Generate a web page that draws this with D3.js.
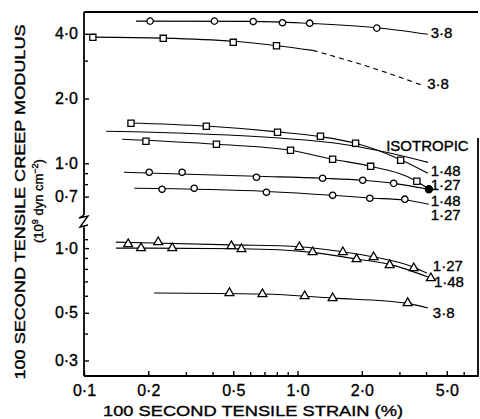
<!DOCTYPE html>
<html>
<head>
<meta charset="utf-8">
<script src="https://cdn.jsdelivr.net/npm/d3@7"></script>
<style>
  body { margin: 0; background: #fff; }
  svg { display: block; font-family: "Liberation Sans", Arial, sans-serif; }
  svg text { stroke: #000; stroke-width: 0.35px; fill: #000; }
</style>
</head>
<body>
<div id="chart"></div>
<script>
// strain (%) and modulus (10^9 dyn cm^-2)
const xMajorTicks = [0.1, 0.2, 0.5, 1, 2, 5];
const xMinorTicks = [0.3, 0.4, 0.6, 0.7, 0.8, 0.9, 3, 4, 6];
const upperTickLabels = [4, 2, 1, 0.7];
const upperMinorTicks = [3, 0.9, 0.8];
const lowerTickLabels = [1, 0.5, 0.3];
const lowerMinorTicks = [1.1, 0.9, 0.8, 0.7, 0.6, 0.4];

// upper panel
const circ38Points = [[0.204, 4.58], [0.408, 4.58], [0.62, 4.56], [0.85, 4.5], [1.14, 4.48], [2.35, 4.25]];
const circ38Curve = [[0.175, 4.58], [0.62, 4.57], [1.14, 4.47], [2.35, 4.27], [4.08, 3.98]];
const sq38Points = [[0.11, 3.85], [0.235, 3.81], [0.5, 3.65], [0.797, 3.52]];
const sq38Curve = [[0.11, 3.86], [0.235, 3.82], [0.5, 3.69], [0.8, 3.52], [1.18, 3.35]];
const sq38Dashed = [[1.18, 3.35], [2.18, 2.8], [3.82, 2.31]];
const isoCurve = [[0.127, 1.41], [0.823, 1.31], [1.52, 1.239], [2.35, 1.15], [4.08, 1.01]];
const sq148Points = [[0.166, 1.535], [0.374, 1.486], [0.806, 1.394], [1.28, 1.335], [1.87, 1.239], [3.04, 1.033]];
const sq148Curve = [[0.16, 1.54], [0.374, 1.49], [0.806, 1.4], [1.28, 1.33], [1.87, 1.24], [3.04, 1.04], [4.08, 0.9]];
const sq127Points = [[0.195, 1.266], [0.417, 1.226], [0.927, 1.15], [1.46, 1.044], [2.2, 0.968], [3.62, 0.825]];
const sq127Curve = [[0.151, 1.293], [0.417, 1.226], [0.927, 1.15], [1.46, 1.044], [2.2, 0.968], [3.62, 0.825], [4.12, 0.757]];
const circ148Points = [[0.202, 0.908], [0.288, 0.908], [0.642, 0.861], [1.31, 0.852], [2.02, 0.834], [2.82, 0.807]];
const circ148Curve = [[0.154, 0.908], [0.642, 0.87], [1.31, 0.852], [2.02, 0.834], [2.82, 0.807], [4.12, 0.757]];
const circ127Points = [[0.232, 0.757], [0.328, 0.765], [0.715, 0.733], [1.46, 0.71], [2.18, 0.688], [3.18, 0.681]];
const circ127Curve = [[0.172, 0.765], [0.715, 0.74], [1.46, 0.71], [2.18, 0.69], [3.18, 0.675], [4.12, 0.645]];
const filledDot = [[4.12, 0.757]];

// lower panel
const tri127Points = [[0.161, 1.044], [0.2226, 1.066], [0.49, 1.022], [1.02, 1.011], [1.63, 0.958], [2.27, 0.908], [3.5, 0.807]];
const tri127Curve = [[0.141, 1.066], [0.49, 1.035], [1.02, 1.015], [1.63, 0.96], [2.27, 0.91], [3.5, 0.815], [4.03, 0.765]];
const tri148Points = [[0.185, 1.0], [0.259, 1.0], [0.546, 0.989], [1.176, 0.958], [1.89, 0.889], [2.7, 0.834], [4.21, 0.725]];
const tri148Curve = [[0.141, 1.0], [0.546, 0.993], [1.176, 0.955], [1.89, 0.889], [2.7, 0.84], [4.21, 0.725]];
const tri38Points = [[0.48, 0.618], [0.685, 0.611], [1.08, 0.598], [1.46, 0.585], [3.28, 0.555]];
const tri38Curve = [[0.213, 0.618], [0.685, 0.611], [1.46, 0.585], [3.28, 0.553], [4.08, 0.526]];

// end labels: text, strain, modulus, panel
const endLabels = [
  ["3·8", 4.2, 4.04, "upper"],
  ["3·8", 4.05, 2.35, "upper"],
  ["ISOTROPIC", 2.6, 1.216, "upper"],
  ["1·48", 4.2, 0.921, "upper"],
  ["1·27", 4.2, 0.793, "upper"],
  ["1·48", 4.2, 0.668, "upper"],
  ["1·27", 4.2, 0.581, "upper"],
  ["1·27", 4.3, 0.834, "lower"],
  ["1·48", 4.35, 0.702, "lower"],
  ["3·8", 4.3, 0.499, "lower"]
];

const width = 480, height = 419;
const plotLeft = 84, plotRight = 478, plotTop = 12, plotBottom = 376;

const x = d3.scaleLog().domain([0.1, 7.0]).range([plotLeft, plotRight]);
const yUpper = d3.scaleLog().domain([0.575, 5.05]).range([215, plotTop]);
const yLower = d3.scaleLog().domain([0.254, 1.24]).range([plotBottom, 228]);
const yFor = { upper: yUpper, lower: yLower };

const fmt = (d) => d3.format(".1f")(d).replace(".", "·");

const svg = d3.select("#chart").append("svg")
  .attr("width", width).attr("height", height);

// frame
svg.append("path")
  .attr("d", `M${plotLeft},${plotTop}H${plotRight}M${plotRight},138V${plotBottom}H${plotLeft}`)
  .attr("fill", "none").attr("stroke", "#000").attr("stroke-width", 1.8);

const styleAxis = (g, size) => {
  g.select(".domain").remove();
  g.selectAll(".tick line").attr("stroke-width", 1.4);
  g.selectAll("text").attr("font-size", size)
    .attr("font-family", "Liberation Sans, Arial, sans-serif");
};

// x axis
svg.append("g")
  .attr("transform", `translate(0,${plotBottom})`)
  .call(d3.axisBottom(x).tickValues(xMajorTicks).tickSize(-5).tickPadding(9).tickFormat(fmt))
  .call((g) => styleAxis(g, 16));
svg.append("g")
  .attr("transform", `translate(0,${plotBottom})`)
  .call(d3.axisBottom(x).tickValues(xMinorTicks).tickSize(-4).tickFormat(""))
  .call((g) => styleAxis(g, 16));

// y axes (two panels with a break)
[[yUpper, upperTickLabels, upperMinorTicks], [yLower, lowerTickLabels, lowerMinorTicks]].forEach(([y, major, minor]) => {
  svg.append("g")
    .attr("transform", `translate(${plotLeft},0)`)
    .call(d3.axisLeft(y).tickValues(major).tickSize(-5).tickPadding(6).tickFormat(fmt))
    .call((g) => styleAxis(g, 16));
  svg.append("g")
    .attr("transform", `translate(${plotLeft},0)`)
    .call(d3.axisLeft(y).tickValues(minor).tickSize(-4).tickFormat(""))
    .call((g) => styleAxis(g, 16));
  svg.append("line")
    .attr("x1", plotLeft).attr("x2", plotLeft)
    .attr("y1", y.range()[0]).attr("y2", y.range()[1])
    .attr("stroke", "#000").attr("stroke-width", 1.8);
});
// break mark
svg.append("path")
  .attr("d", `M${plotLeft},215 L${plotLeft - 5},218 L${plotLeft + 4},216 L${plotLeft - 4},227 L${plotLeft + 4},225 M${plotLeft},226V228`)
  .attr("fill", "none").attr("stroke", "#000").attr("stroke-width", 1.4);

// series
const series = [
  { panel: "upper", curve: circ38Curve, points: circ38Points, marker: "circle" },
  { panel: "upper", curve: sq38Curve, points: sq38Points, marker: "square" },
  { panel: "upper", curve: sq38Dashed, points: [], marker: "none", dashed: true },
  { panel: "upper", curve: isoCurve, points: [], marker: "none" },
  { panel: "upper", curve: sq148Curve, points: sq148Points, marker: "square" },
  { panel: "upper", curve: sq127Curve, points: sq127Points, marker: "square" },
  { panel: "upper", curve: circ148Curve, points: circ148Points, marker: "circle" },
  { panel: "upper", curve: circ127Curve, points: circ127Points, marker: "circle" },
  { panel: "upper", curve: [], points: filledDot, marker: "dot" },
  { panel: "lower", curve: tri127Curve, points: tri127Points, marker: "triangle" },
  { panel: "lower", curve: tri148Curve, points: tri148Points, marker: "triangle" },
  { panel: "lower", curve: tri38Curve, points: tri38Points, marker: "triangle" }
];

const plot = svg.append("g");
series.forEach((s) => {
  const y = yFor[s.panel];
  const line = d3.line().x((d) => x(d[0])).y((d) => y(d[1])).curve(d3.curveMonotoneX);
  if (s.curve.length) {
    plot.append("path")
      .attr("d", line(s.curve))
      .attr("fill", "none").attr("stroke", "#000").attr("stroke-width", 1.1)
      .attr("stroke-dasharray", s.dashed ? "5,4" : null);
  }
  const sym = { circle: d3.symbolCircle, square: d3.symbolSquare, triangle: d3.symbolTriangle, dot: d3.symbolCircle }[s.marker];
  const size = { circle: 32, square: 38, triangle: 34, dot: 40 }[s.marker];
  if (!sym) return;
  plot.selectAll(null)
    .data(s.points)
    .enter()
    .append("path")
    .attr("transform", (d) => `translate(${x(d[0])},${y(d[1])})`)
    .attr("d", d3.symbol(sym, size)())
    .attr("fill", s.marker === "dot" ? "#000" : "#fff")
    .attr("stroke", "#000").attr("stroke-width", 1.3);
});

// end labels
svg.append("g")
  .selectAll("text")
  .data(endLabels)
  .enter()
  .append("text")
  .attr("x", (d) => x(d[1]))
  .attr("y", (d) => yFor[d[3]](d[2]))
  .attr("dominant-baseline", "central")
  .attr("font-size", 15)
  .text((d) => d[0]);

// axis titles
svg.append("text")
  .attr("x", 253).attr("y", 416)
  .attr("text-anchor", "middle")
  .attr("font-size", 15.5)
  .attr("textLength", 300).attr("lengthAdjust", "spacingAndGlyphs")
  .text("100 SECOND TENSILE STRAIN (%)");

svg.append("text")
  .attr("transform", "translate(25,202) rotate(-90)")
  .attr("text-anchor", "middle")
  .attr("font-size", 14)
  .attr("textLength", 355).attr("lengthAdjust", "spacingAndGlyphs")
  .text("100 SECOND TENSILE CREEP MODULUS");

const unit = svg.append("text")
  .attr("transform", "translate(43,201) rotate(-90)")
  .attr("text-anchor", "middle")
  .attr("font-size", 13);
unit.append("tspan").text("(10");
unit.append("tspan").attr("font-size", 9).attr("dy", -5).text("9");
unit.append("tspan").attr("dy", 5).text(" dyn cm");
unit.append("tspan").attr("font-size", 9).attr("dy", -5).text("−2");
unit.append("tspan").attr("dy", 5).text(")");
</script>
</body>
</html>
